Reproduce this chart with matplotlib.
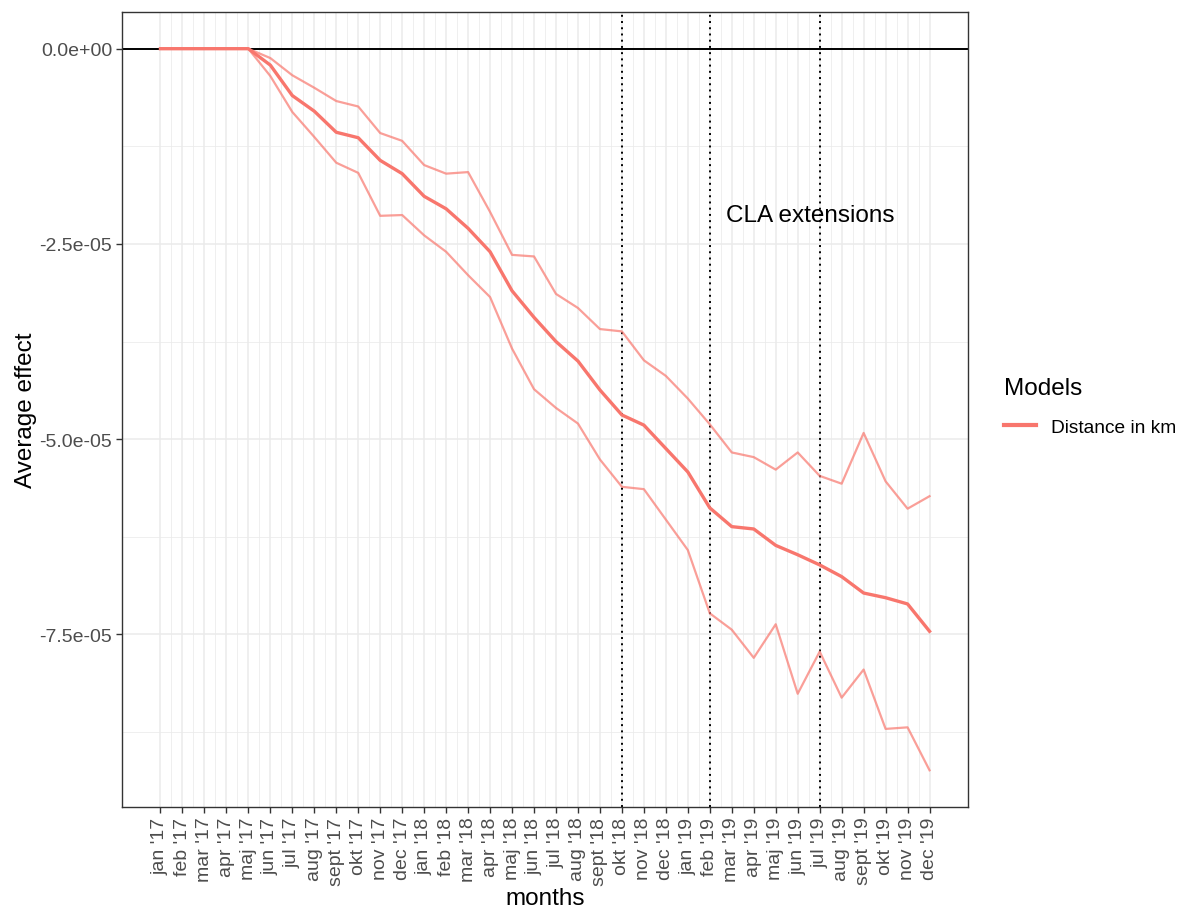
import numpy as np
import matplotlib
matplotlib.use('Agg')
import matplotlib.pyplot as plt

plt.rcParams['font.family'] = ['Liberation Sans', 'DejaVu Sans']

months = ["jan '17", "feb '17", "mar '17", "apr '17", "maj '17", "jun '17", "jul '17", "aug '17",
          "sept '17", "okt '17", "nov '17", "dec '17", "jan '18", "feb '18", "mar '18", "apr '18",
          "maj '18", "jun '18", "jul '18", "aug '18", "sept '18", "okt '18", "nov '18", "dec '18",
          "jan '19", "feb '19", "mar '19", "apr '19", "maj '19", "jun '19", "jul '19", "aug '19",
          "sept '19", "okt '19", "nov '19", "dec '19"]

# values in units of 1e-05
effect = [0, 0, 0, 0, 0, -0.21, -0.60, -0.80, -1.07, -1.14, -1.43, -1.60,
          -1.89, -2.05, -2.30, -2.60, -3.10, -3.44, -3.75, -4.00, -4.37, -4.69,
          -4.82, -5.12, -5.42, -5.88, -6.12, -6.15, -6.36, -6.48, -6.61, -6.76,
          -6.97, -7.03, -7.11, -7.46]
upper = [0, 0, 0, 0, 0, -0.12, -0.34, -0.50, -0.67, -0.74, -1.08, -1.18,
         -1.49, -1.60, -1.58, -2.09, -2.64, -2.66, -3.14, -3.32, -3.59, -3.62,
         -3.99, -4.19, -4.48, -4.81, -5.17, -5.23, -5.39, -5.17, -5.47, -5.57,
         -4.92, -5.54, -5.89, -5.73]
lower = [0, 0, 0, 0, 0, -0.35, -0.81, -1.13, -1.46, -1.59, -2.14, -2.13,
         -2.39, -2.60, -2.90, -3.18, -3.84, -4.36, -4.60, -4.80, -5.26, -5.61,
         -5.64, -6.03, -6.42, -7.23, -7.44, -7.80, -7.37, -8.26, -7.72, -8.31,
         -7.95, -8.71, -8.69, -9.24]
cla_months = ["okt '18", "feb '19", "jul '19"]

scale = 1e-5
x = np.arange(len(months))
col = '#F8766D'

fig = plt.figure(figsize=(11.8, 9.12), dpi=100)
ax = fig.add_axes([122/1180, 1 - 808/912, (968-122)/1180, (808-13)/912])

# grid
for xv in x:
    ax.axvline(xv, color='#EBEBEB', lw=1.1, zorder=0)
for xv in x[:-1] + 0.5:
    ax.axvline(xv, color='#EBEBEB', lw=0.55, zorder=0)
for yv in [0, -2.5, -5, -7.5]:
    ax.axhline(yv * scale, color='#EBEBEB', lw=1.1, zorder=0)
for yv in [-1.25, -3.75, -6.25, -8.75]:
    ax.axhline(yv * scale, color='#EBEBEB', lw=0.55, zorder=0)

ax.axhline(0, color='black', lw=1.4, zorder=1)
for m in cla_months:
    ax.axvline(months.index(m), color='black', lw=1.4, ls=(0, (1, 2.2)), zorder=1)

ax.plot(x, np.array(upper) * scale, color=col, alpha=0.7, lw=1.6, zorder=2)
ax.plot(x, np.array(lower) * scale, color=col, alpha=0.7, lw=1.6, zorder=2)
ax.plot(x, np.array(effect) * scale, color=col, lw=2.4, zorder=3, label='Distance in km')

ax.text(25.75, -2.13 * scale, 'CLA extensions', fontsize=17.5, ha='left', va='center')

ax.set_xlim(-1.75, 36.75)
ax.set_ylim(-9.71 * scale, 0.47 * scale)

ax.set_xticks(x)
ax.set_xticklabels(months, rotation=90, ha='center', va='top', fontsize=14, color='#4D4D4D')
ax.set_yticks([0, -2.5e-5, -5e-5, -7.5e-5])
ax.set_yticklabels(['0.0e+00', '-2.5e-05', '-5.0e-05', '-7.5e-05'], fontsize=14, color='#4D4D4D')
ax.tick_params(length=4, width=1, color='#333333', pad=3)
for s in ax.spines.values():
    s.set_color('#333333')
    s.set_linewidth(1)

ax.set_xlabel('months', fontsize=17.5, labelpad=2)
ax.set_ylabel('Average effect', fontsize=17.5, labelpad=2)

leg = ax.legend(title='Models', loc='upper left', bbox_to_anchor=(1004/1180, 1 - 378/912),
                bbox_transform=fig.transFigure, frameon=False, fontsize=13.8,
                title_fontsize=17.5, handlelength=1.65, borderaxespad=0, handletextpad=0.8,
                labelspacing=1.0, borderpad=0)
leg._legend_box.align = 'left'
for h in leg.get_lines():
    h.set_linewidth(3)

fig.savefig('out.png', dpi=100)
